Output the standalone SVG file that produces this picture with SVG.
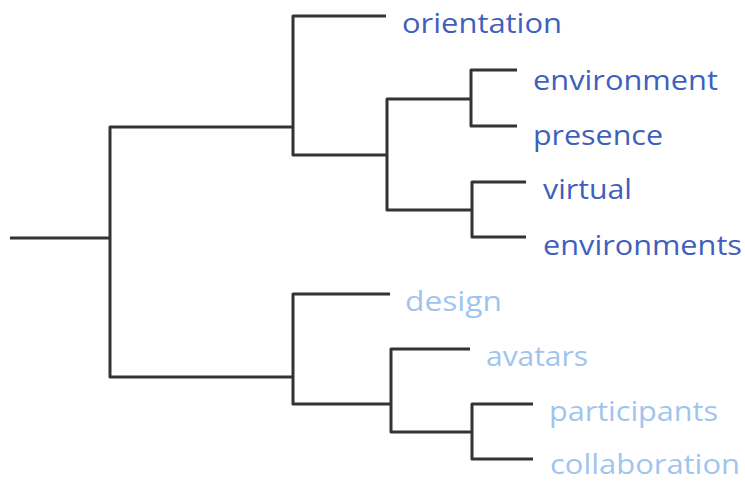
<svg xmlns="http://www.w3.org/2000/svg" width="745" height="481" viewBox="0 0 745 481">
<style>
.c{fill:none;stroke:#333;stroke-width:3;stroke-linejoin:round;stroke-linecap:butt}
text{font-family:"Open Sans","Noto Sans","Liberation Sans",sans-serif;font-size:28px}
.d{fill:#3f5fbe}
.l{fill:#9fc5ee}
</style>
<rect width="745" height="481" fill="#fff"/>
<g id="connectors">
<path class="c" d="M10,238 H110"/>
<path class="c" d="M293,127 H110 V377 H293"/>
<path class="c" d="M386,16 H293 V155 H387"/>
<path class="c" d="M471,99 H387 V210 H472"/>
<path class="c" d="M517,70 H471 V126 H517"/>
<path class="c" d="M526,182 H472 V237 H526"/>
<path class="c" d="M390,294 H293 V404 H391"/>
<path class="c" d="M470,349 H391 V432 H472"/>
<path class="c" d="M533,404 H472 V459 H533"/>
</g>
<g id="n-orientation"><text class="d" x="402" y="33" textLength="160" lengthAdjust="spacingAndGlyphs">orientation</text></g>
<g id="n-environment"><text class="d" x="533" y="90" textLength="185" lengthAdjust="spacingAndGlyphs">environment</text></g>
<g id="n-presence"><text class="d" x="533" y="145" textLength="130" lengthAdjust="spacingAndGlyphs">presence</text></g>
<g id="n-virtual"><text class="d" x="543" y="199" textLength="89" lengthAdjust="spacingAndGlyphs">virtual</text></g>
<g id="n-environments"><text class="d" x="543" y="255" textLength="199" lengthAdjust="spacingAndGlyphs">environments</text></g>
<g id="n-design"><text class="l" x="405" y="311" textLength="97" lengthAdjust="spacingAndGlyphs">design</text></g>
<g id="n-avatars"><text class="l" x="486" y="366" textLength="102" lengthAdjust="spacingAndGlyphs">avatars</text></g>
<g id="n-participants"><text class="l" x="549" y="421" textLength="169" lengthAdjust="spacingAndGlyphs">participants</text></g>
<g id="n-collaboration"><text class="l" x="550" y="474" textLength="190" lengthAdjust="spacingAndGlyphs">collaboration</text></g>
</svg>
